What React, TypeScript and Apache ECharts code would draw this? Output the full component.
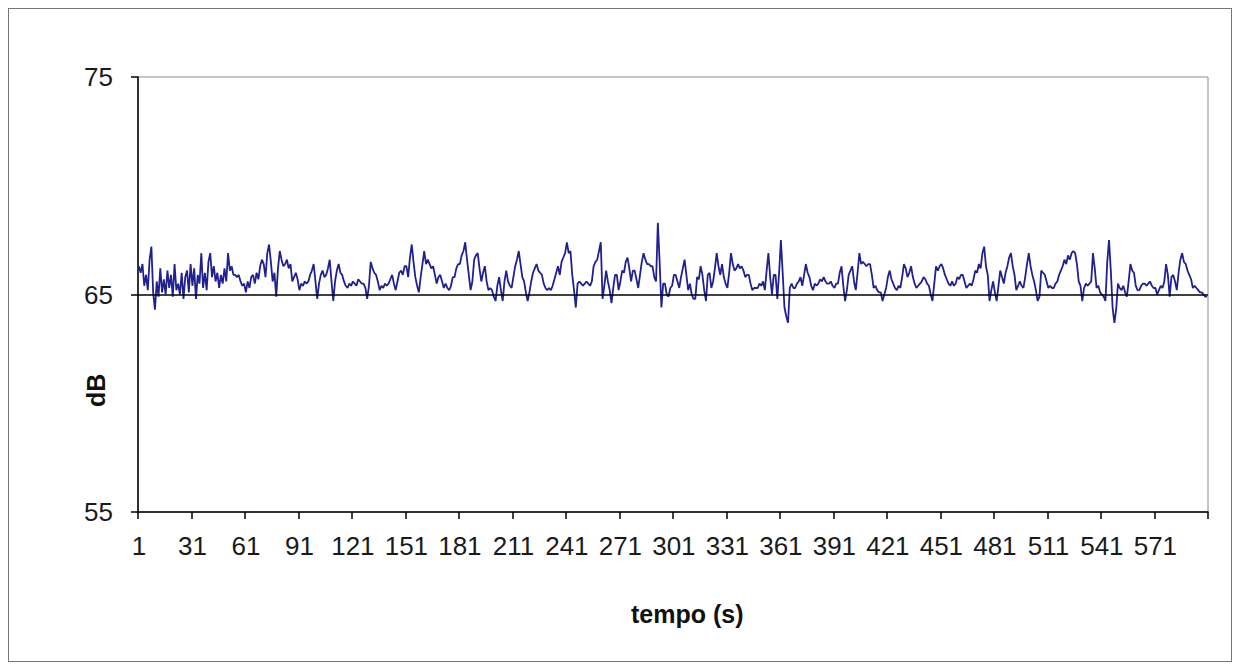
import React, { useEffect, useRef } from "react";
import * as echarts from "echarts";

const yTicks = [55, 65, 75];
const refLevel = 65;

const levels: number[] = [
  66.3, 66.0, 66.4, 65.4, 65.9, 65.2, 66.6, 67.2, 65.1, 64.3,
  65.6, 64.9, 66.2, 65.1, 65.7, 65.0, 66.1, 65.3, 65.9, 64.9,
  66.4, 65.2, 65.5, 65.0, 66.0, 64.8, 65.8, 66.1, 65.1, 66.4,
  65.4, 66.2, 64.8, 65.9, 65.5, 66.9, 65.3, 66.0, 65.2, 66.5,
  66.9, 65.8, 66.3, 65.6, 66.0, 65.3, 65.9, 65.5, 66.2, 65.6,
  66.9, 66.1, 66.3, 65.9, 65.9, 65.8, 65.9, 65.6, 65.4, 65.5,
  65.1, 65.6, 65.3, 65.8, 65.9, 65.5, 66.0, 65.7, 66.3, 66.6,
  66.4, 65.8, 66.9, 67.3, 66.5, 65.6, 66.0, 64.9, 66.2, 67.0,
  66.6, 66.3, 66.4, 66.6, 66.2, 66.4, 65.6, 65.8, 66.0, 65.7,
  65.2, 65.5, 65.4, 65.6, 65.5, 65.6, 65.9, 66.1, 66.4, 65.6,
  64.8, 65.5, 65.9, 66.1, 65.8, 65.9, 66.2, 66.6, 65.6, 64.7,
  65.6, 66.1, 66.4, 66.0, 65.9, 65.6, 65.4, 65.3, 65.5, 65.4,
  65.6, 65.5, 65.4, 65.7, 65.6, 65.5, 65.5, 65.3, 64.8, 65.4,
  66.5, 66.2, 66.0, 65.9, 65.6, 65.2, 65.4, 65.3, 65.5, 65.4,
  65.5, 65.7, 65.9, 65.5, 65.2, 65.6, 66.0, 66.1, 65.9, 66.3,
  66.3, 65.8, 66.7, 67.3, 66.5, 65.8, 65.4, 65.1, 65.8, 66.4,
  67.0, 66.4, 66.6, 66.4, 66.2, 66.3, 65.9, 65.5, 65.8, 65.9,
  65.6, 65.3, 65.5, 65.3, 65.2, 65.4, 65.8, 65.8, 66.2, 66.4,
  66.4, 66.8, 67.0, 67.4, 66.6, 65.9, 65.2, 65.6, 66.6, 66.8,
  66.9, 66.2, 65.6, 66.0, 66.3, 65.6, 65.2, 65.3, 65.2, 64.9,
  64.7, 65.4, 65.8, 65.2, 64.7, 65.6, 66.1, 65.6, 65.4, 65.3,
  65.8, 66.3, 66.6, 67.0, 66.4, 65.8, 65.6, 65.1, 64.7, 65.1,
  65.6, 66.0, 66.2, 66.4, 66.1, 66.0, 65.9, 65.5, 65.3, 65.2,
  65.3, 65.2, 65.4, 65.7, 66.0, 66.3, 65.9, 66.5, 66.7, 66.9,
  67.4, 66.9, 67.0, 65.9, 65.2, 64.4, 65.5, 65.6, 65.5, 65.4,
  65.5, 65.6, 65.5, 65.4, 65.6, 66.3, 66.5, 66.6, 67.0, 67.4,
  64.8, 65.4, 66.1, 65.6, 65.2, 64.6, 65.3, 65.9, 65.9, 65.2,
  65.6, 66.1, 66.0, 66.5, 66.7, 66.2, 65.6, 66.1, 66.1, 65.7,
  65.3, 65.9, 66.5, 66.9, 66.6, 66.4, 66.4, 66.3, 66.3, 65.8,
  65.6, 68.3, 66.5, 64.4, 65.5, 65.5, 65.0, 64.9, 65.3, 65.4,
  65.9, 65.9, 65.6, 65.3, 65.8, 66.2, 66.6, 65.9, 65.2, 65.5,
  65.0, 64.8, 64.8, 65.8, 65.7, 66.3, 65.9, 65.2, 64.7, 65.9,
  66.0, 65.3, 65.6, 66.2, 66.9, 66.3, 65.9, 66.4, 65.8, 65.5,
  65.3, 66.0, 66.9, 66.4, 66.1, 66.2, 66.4, 66.2, 66.3, 66.1,
  65.8, 65.9, 65.9, 65.5, 65.2, 65.3, 65.3, 65.3, 65.5, 65.4,
  65.6, 65.2, 66.1, 66.9, 65.8, 65.0, 65.9, 65.9, 64.8, 66.0,
  67.5, 66.0, 64.4, 64.0, 63.7, 65.3, 65.5, 65.3, 65.3, 65.5,
  65.6, 65.8, 65.4, 65.9, 66.4, 66.0, 65.8, 65.4, 65.2, 65.5,
  65.4, 65.5, 65.7, 65.6, 65.8, 65.6, 65.5, 65.5, 65.6, 65.4,
  65.3, 65.5, 65.5, 66.0, 66.3, 65.4, 64.7, 65.2, 65.9, 66.1,
  66.3, 65.6, 65.2, 66.0, 66.9, 66.4, 66.5, 66.4, 66.3, 66.4,
  66.4, 65.9, 65.3, 65.4, 65.2, 65.1, 65.1, 64.7, 65.0, 65.3,
  65.8, 66.1, 65.7, 65.5, 65.3, 65.2, 65.4, 65.3, 65.8, 66.4,
  66.2, 65.8, 66.0, 66.3, 65.8, 65.5, 65.3, 65.4, 65.5, 65.6,
  65.8, 65.7, 65.5, 65.4, 65.0, 64.7, 65.5, 66.3, 66.1, 66.3,
  66.4, 66.2, 65.9, 65.7, 65.5, 65.4, 65.6, 65.4, 65.5, 65.8,
  65.7, 65.9, 65.9, 65.6, 65.3, 65.4, 65.5, 65.4, 65.7, 66.1,
  66.0, 66.4, 66.2, 66.9, 67.2, 66.3, 65.9, 64.7, 65.2, 65.6,
  65.1, 64.7, 65.4, 66.1, 65.8, 65.5, 66.0, 66.3, 66.7, 66.9,
  66.3, 65.9, 65.2, 65.4, 65.6, 65.4, 65.3, 65.8, 66.4, 66.9,
  66.3, 65.9, 65.6, 65.2, 64.7, 64.9, 66.1, 66.0, 65.9, 65.6,
  65.3, 65.4, 65.3, 65.3, 65.5, 65.6, 65.9, 66.1, 66.3, 66.6,
  66.4, 66.8, 66.6, 66.9, 67.0, 66.9, 66.4, 65.6, 65.4, 64.7,
  65.3, 65.5, 65.4, 65.5, 65.6, 66.9, 66.2, 65.3, 65.4, 65.1,
  65.0, 64.9, 64.7, 66.5, 67.5, 66.1, 64.4, 63.7, 64.3, 65.5,
  65.3, 65.2, 65.4, 65.1, 64.9, 65.6, 66.4, 66.1, 66.0, 65.4,
  65.2, 65.2, 65.4, 65.5, 65.5, 65.4, 65.5, 65.6, 65.4, 65.3,
  65.3, 65.0, 65.2, 65.4, 65.3, 65.6, 66.4, 65.9, 64.9, 65.8,
  65.9, 65.6, 65.2, 66.0, 66.6, 66.9, 66.5, 66.4, 66.1, 65.9,
  65.7, 65.3, 65.4, 65.3, 65.2, 65.1, 65.1, 65.0, 64.9, 64.9,
];

const seconds: string[] = levels.map((_, i) => String(i + 1));

const FONT = "'Liberation Sans', Arial, sans-serif";

export default function App() {
  const ref = useRef<HTMLDivElement>(null);
  useEffect(() => {
    if (!ref.current) return;
    const chart = echarts.init(ref.current, null, { renderer: "svg" });
    chart.setOption({
      animation: false,
      backgroundColor: "#ffffff",
      grid: {
        left: 129,
        right: 23,
        top: 68,
        bottom: 149,
        show: true,
        borderColor: "#8c8c8c",
        borderWidth: 1,
        backgroundColor: "transparent",
      },
      xAxis: {
        type: "category",
        data: seconds,
        boundaryGap: true,
        axisLine: { lineStyle: { color: "#000", width: 1.5 } },
        axisTick: { show: true, interval: 29, length: 7, lineStyle: { color: "#000", width: 1.5 } },
        axisLabel: { interval: 29, color: "#1a1a1a", fontSize: 26, fontFamily: FONT, margin: 21 },
        splitLine: { show: false },
      },
      yAxis: {
        type: "value",
        min: yTicks[0],
        max: yTicks[yTicks.length - 1],
        interval: 10,
        axisLine: { show: true, lineStyle: { color: "#000", width: 1.5 } },
        axisTick: { show: true, length: 7, lineStyle: { color: "#000", width: 1.5 } },
        axisLabel: { color: "#1a1a1a", fontSize: 26, fontFamily: FONT, margin: 25 },
        splitLine: { show: false },
      },
      graphic: [
        {
          type: "text",
          left: 622,
          top: 592,
          style: { text: "tempo (s)", font: `bold 25px ${FONT}`, fill: "#111" },
        },
        {
          type: "text",
          x: 74,
          y: 398,
          rotation: Math.PI / 2,
          style: { text: "dB", font: `bold 25px ${FONT}`, fill: "#111" },
        },
      ],
      series: [
        {
          type: "line",
          data: levels,
          symbol: "none",
          lineStyle: { color: "#202090", width: 1.8 },
          markLine: {
            silent: true,
            symbol: "none",
            label: { show: false },
            lineStyle: { color: "#000", type: "solid", width: 1.5 },
            data: [{ yAxis: refLevel }],
          },
          z: 3,
        },
      ],
    });
    return () => chart.dispose();
  }, []);
  return (
    <div
      style={{
        width: 1224,
        height: 654,
        border: "1px solid #777",
        boxSizing: "border-box",
        background: "#fff",
      }}
    >
      <div ref={ref} style={{ width: 1222, height: 652 }} />
    </div>
  );
}
